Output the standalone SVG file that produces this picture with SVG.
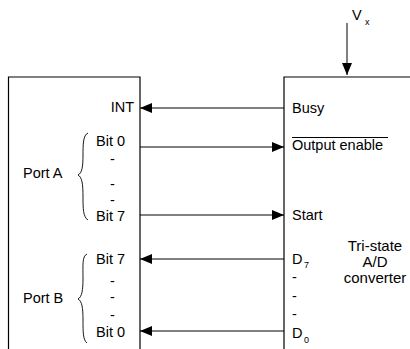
<svg xmlns="http://www.w3.org/2000/svg" width="410" height="349" viewBox="0 0 410 349">
<defs>
<style>
text{font-family:"Liberation Sans",Arial,sans-serif;font-size:14.5px;fill:#000}
.sub{font-size:9px}
.big{font-size:15px}
.box{fill:none;stroke:#000;stroke-width:1.2}
.wire{fill:none;stroke:#000;stroke-width:1}
.brace{fill:none;stroke:#000;stroke-width:0.9}
</style>
<marker id="ah" viewBox="0 0 12 10" refX="12" refY="5" markerWidth="12" markerHeight="10" markerUnits="userSpaceOnUse" orient="auto">
<path d="M0,0 L12,5 L0,10 Z" fill="#000"/>
</marker>
</defs>
<rect width="410" height="349" fill="#fff"/>
<g id="port-chip">
<path class="box" d="M8.5,349 V77 H140 V349"/>
<text x="134" y="112" text-anchor="end">INT</text>
<text x="96" y="146">Bit 0</text>
<text x="110" y="164">-</text>
<text x="110" y="189">-</text>
<text x="110" y="205">-</text>
<text x="96" y="221">Bit 7</text>
<text x="23" y="178">Port A</text>
<path class="brace" d="M88,133 C83,135 83,145 83,155 C83,167 82,173 78,175 C82,177 83,184 83,197 C83,208 83,217 88,220"/>
<text x="96" y="264">Bit 7</text>
<text x="110" y="286">-</text>
<text x="110" y="302">-</text>
<text x="110" y="320">-</text>
<text x="96" y="337">Bit 0</text>
<text x="23" y="303">Port B</text>
<path class="brace" d="M87,254 C82,256 83,266 83,278 C83,290 82,297 78,299 C82,301 83,308 83,320 C83,332 83,340 87,343"/>
</g>
<g id="adc">
<path class="box" d="M284,349 V77 H410"/>
<text x="292" y="113">Busy</text>
<text x="292" y="150">Output enable</text>
<line x1="292" y1="137.5" x2="388" y2="137.5" stroke="#000" stroke-width="1"/>
<text x="292" y="220">Start</text>
<text x="292" y="264">D</text>
<text class="sub" x="304" y="268">7</text>
<text x="292" y="282">-</text>
<text x="292" y="301">-</text>
<text x="292" y="319">-</text>
<text x="292" y="338">D</text>
<text class="sub" x="304" y="343">0</text>
<text class="big" x="375" y="251" text-anchor="middle">Tri-state</text>
<text class="big" x="375" y="267" text-anchor="middle">A/D</text>
<text class="big" x="375" y="283" text-anchor="middle">converter</text>
</g>
<g id="vx">
<text x="352" y="20">V</text>
<text class="sub" x="365" y="25">x</text>
</g>
<g id="connectors">
<line class="wire" x1="347" y1="23" x2="347" y2="75" marker-end="url(#ah)"/>
<line class="wire" x1="284" y1="108" x2="140" y2="108" marker-end="url(#ah)"/>
<line class="wire" x1="140" y1="147" x2="284" y2="147" marker-end="url(#ah)"/>
<line class="wire" x1="140" y1="215" x2="284" y2="215" marker-end="url(#ah)"/>
<line class="wire" x1="284" y1="259" x2="140" y2="259" marker-end="url(#ah)"/>
<line class="wire" x1="284" y1="331" x2="140" y2="331" marker-end="url(#ah)"/>
</g>
</svg>
